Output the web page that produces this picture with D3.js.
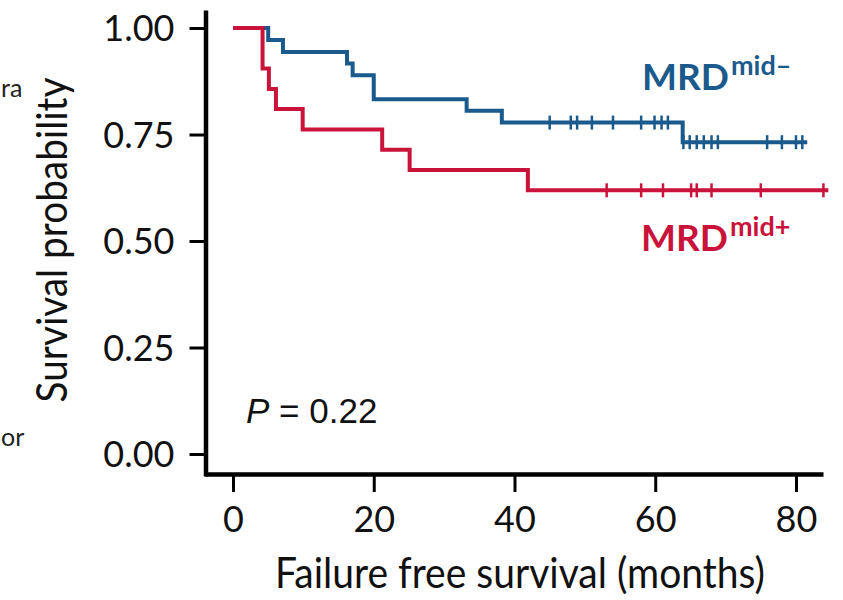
<!DOCTYPE html>
<html>
<head>
<meta charset="utf-8">
<script src="https://cdn.jsdelivr.net/npm/d3@7/dist/d3.min.js"></script>
<style>
  html, body { margin: 0; padding: 0; background: #fff; }
  svg { display: block; }
</style>
</head>
<body>
<div id="chart"></div>
<script>
// Kaplan-Meier steps (months, survival probability)
const negTimes = [0, 5.0, 7.1, 16.2, 17.0, 20.0, 33.2, 38.2, 63.9, 81.6];
const negSurv  = [1, 0.972, 0.944, 0.917, 0.889, 0.833, 0.806, 0.778, 0.732, 0.732];
const negCensored = [45.0, 48.0, 48.9, 51.0, 54.0, 58.0, 59.9, 60.9, 61.8,
                     64.0, 64.9, 65.9, 66.9, 68.0, 68.9, 75.9, 78.0, 80.0, 80.9];

const posTimes = [0, 4.2, 5.1, 6.1, 9.9, 21.2, 25.1, 41.9, 84.6];
const posSurv  = [1, 0.905, 0.857, 0.810, 0.762, 0.714, 0.667, 0.619, 0.619];
const posCensored = [53.1, 58.0, 61.1, 65.1, 65.9, 68.0, 75.0, 83.9];

const xTicks = [0, 20, 40, 60, 80];
const yTicks = [0, 0.25, 0.5, 0.75, 1];

const blue = '#1a5a8c';
const red = '#c9133a';

const width = 843, height = 600;

const svg = d3.select('#chart').append('svg')
  .attr('width', width)
  .attr('height', height);

const x = d3.scaleLinear().domain([-3.98, 83.84]).range([205, 823]);
const y = d3.scaleLinear().domain([-0.0516, 1.0423]).range([476, 10]);

// cut-off text from the neighbouring panel
svg.append('text').attr('x', 1).attr('y', 97)
  .style('font', '25px Lato, sans-serif').attr('fill', '#222').text('ra');
svg.append('text').attr('x', 1).attr('y', 446)
  .style('font', '25px Lato, sans-serif').attr('fill', '#222').text('or');

// axes
const xAxis = svg.append('g')
  .attr('transform', 'translate(0,474)')
  .call(d3.axisBottom(x).tickValues(xTicks).tickFormat(d3.format('d')).tickSize(18).tickSizeOuter(0).tickPadding(14));

const yAxis = svg.append('g')
  .attr('transform', 'translate(205.5,0)')
  .call(d3.axisLeft(y).tickValues(yTicks).tickFormat(d3.format('.2f')).tickSize(16).tickSizeOuter(0).tickPadding(15));

[xAxis, yAxis].forEach(g => {
  g.select('.domain').attr('stroke', '#000').attr('stroke-width', 4.5);
  g.selectAll('.tick line').attr('stroke', '#000').attr('stroke-width', 3);
  g.selectAll('.tick text')
    .style('font-family', 'Lato, sans-serif')
    .style('font-size', '36px')
    .attr('fill', '#111');
});
yAxis.selectAll('.tick text').attr('dy', '0.36em');

// axis titles
svg.append('text')
  .attr('x', 520).attr('y', 588)
  .attr('text-anchor', 'middle')
  .attr('textLength', 490).attr('lengthAdjust', 'spacingAndGlyphs')
  .style('font', '43px Lato, sans-serif').attr('fill', '#111')
  .text('Failure free survival (months)');

svg.append('text')
  .attr('transform', 'translate(67,240) rotate(-90)')
  .attr('text-anchor', 'middle')
  .attr('textLength', 325).attr('lengthAdjust', 'spacingAndGlyphs')
  .style('font', '43px Lato, sans-serif').attr('fill', '#111')
  .text('Survival probability');

// curves
const line = d3.line()
  .x(d => x(d[0]))
  .y(d => y(d[1]))
  .curve(d3.curveStepAfter);

function survAt(times, surv, t) {
  let i = 0;
  while (i + 1 < times.length && times[i + 1] <= t) i++;
  return surv[i];
}

function drawCurve(times, surv, censored, color) {
  const pts = times.map((t, i) => [t, surv[i]]);
  svg.append('path')
    .datum(pts)
    .attr('d', line)
    .attr('fill', 'none')
    .attr('stroke', color)
    .attr('stroke-width', 4)
    .attr('stroke-linejoin', 'miter');
  svg.append('g').selectAll('line')
    .data(censored)
    .join('line')
    .attr('x1', d => x(d)).attr('x2', d => x(d))
    .attr('y1', d => y(survAt(times, surv, d)) - 7)
    .attr('y2', d => y(survAt(times, surv, d)) + 7)
    .attr('stroke', color)
    .attr('stroke-width', 2.5);
}

drawCurve(negTimes, negSurv, negCensored, blue);
drawCurve(posTimes, posSurv, posCensored, red);

// group labels
function groupLabel(xPos, yPos, sup, color) {
  const t = svg.append('text')
    .attr('x', xPos).attr('y', yPos)
    .attr('fill', color)
    .style('font-family', 'Lato, sans-serif')
    .style('font-weight', 700);
  t.append('tspan').style('font-size', '37px').text('MRD');
  t.append('tspan').attr('dx', 2).attr('dy', -15).style('font-size', '27px').text(sup);
}
groupLabel(642, 90, 'mid\u2013', blue);
groupLabel(641, 251, 'mid+', red);

// p value
const p = svg.append('text')
  .attr('x', 246).attr('y', 423)
  .attr('fill', '#111')
  .style('font', '35px "Liberation Sans", Arial, sans-serif');
p.append('tspan').style('font-style', 'italic').text('P');
p.append('tspan').text(' = 0.22');
</script>
</body>
</html>
